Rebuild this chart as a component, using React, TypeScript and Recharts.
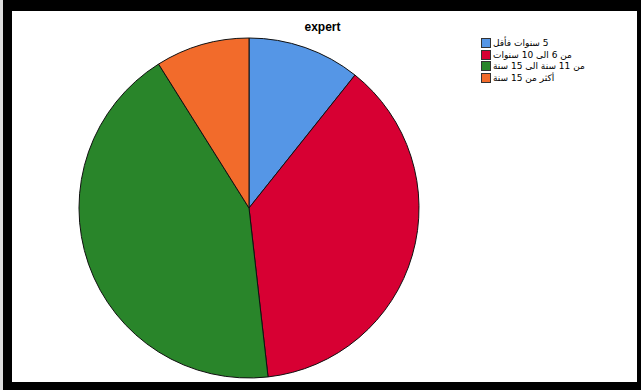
import React from 'react';
import { PieChart, Pie, Cell, Legend } from 'recharts';

const categories = ['5 سنوات فأقل', 'من 6 الى 10 سنوات', 'من 11 سنة الى 15 سنة', 'أكثر من 15 سنة'];
const counts = [6, 21, 24, 5];
const COLORS = ['#5596e6', '#d70033', '#29852a', '#f26b2b'];

const data = categories.map((name, i) => ({ name, value: counts[i] }));

function LegendBox() {
  return (
    <div style={{ fontFamily: '"DejaVu Sans", Arial, sans-serif', fontSize: 9, color: '#000' }}>
      {categories.map((c, i) => (
        <div key={c} style={{ display: 'flex', alignItems: 'center', height: 11.7 }}>
          <span
            style={{
              display: 'inline-block',
              width: 8,
              height: 8,
              background: COLORS[i],
              border: '1px solid #333',
              marginRight: 2,
            }}
          />
          <span style={{ direction: 'rtl', whiteSpace: 'nowrap' }}>{c}</span>
        </div>
      ))}
    </div>
  );
}

export default function App() {
  return (
    <div style={{ position: 'fixed', left: 0, top: 0, width: 641, height: 390, background: '#000' }}>
      <div style={{ position: 'absolute', left: 0, top: 0, width: 3, height: 390, background: '#ddd' }} />
      <div style={{ position: 'absolute', left: 12, top: 11, width: 625, height: 371, background: '#fff' }} />
      <div
        style={{
          position: 'absolute',
          left: 0,
          width: 641,
          top: 20,
          textAlign: 'center',
          fontFamily: 'Arial, "Liberation Sans", sans-serif',
          fontWeight: 'bold',
          fontSize: 12,
          paddingLeft: 4,
          boxSizing: 'border-box',
        }}
      >
        expert
      </div>
      <div style={{ position: 'absolute', left: 0, top: 0 }}>
        <PieChart width={641} height={390} margin={{ top: 0, right: 0, bottom: 0, left: 0 }}>
          <Pie
            data={data}
            dataKey="value"
            nameKey="name"
            cx={249}
            cy={208}
            outerRadius={170}
            startAngle={90}
            endAngle={-270}
            stroke="#111"
            strokeWidth={1}
            isAnimationActive={false}
          >
            {data.map((d, i) => (
              <Cell key={d.name} fill={COLORS[i]} />
            ))}
          </Pie>
          <Legend
            content={<LegendBox />}
            wrapperStyle={{ left: 481, top: 37, width: 140 }}
          />
        </PieChart>
      </div>
    </div>
  );
}
